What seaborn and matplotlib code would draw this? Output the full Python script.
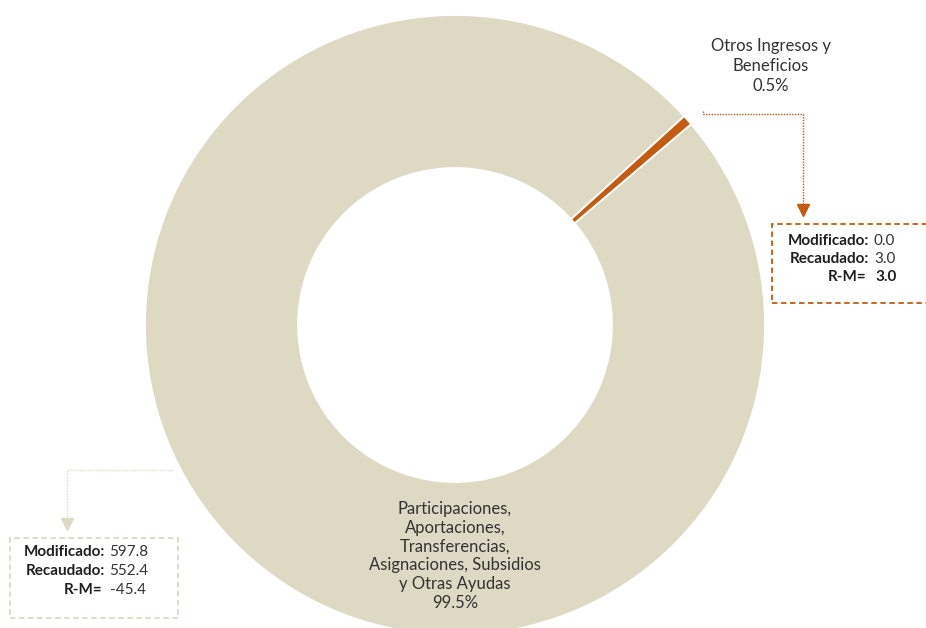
import numpy as np
import matplotlib
matplotlib.use("Agg")
import matplotlib.pyplot as plt
import seaborn as sns

# data
categorias = ["Participaciones,\nAportaciones,\nTransferencias,\nAsignaciones, Subsidios\ny Otras Ayudas",
              "Otros Ingresos y\nBeneficios"]
modificado = [597.8, 0.0]
recaudado = [552.4, 3.0]
colores = ["#DDD9C3", "#C55A11"]

sns.set_theme(style="white")
plt.rcParams['font.family'] = ['Lato', 'DejaVu Sans']

W, H = 926, 628
fig = plt.figure(figsize=(W / 100, H / 100), dpi=100)
ax = fig.add_axes([0, 0, 1, 1])

def Y(y):
    # image pixel row -> data y
    return H - y

total = sum(recaudado)
pct = [v / total * 100 for v in recaudado]
rm = [r - m for r, m in zip(recaudado, modificado)]

cx, cy, R = 455, Y(325), 310
ax.pie(recaudado, colors=colores, radius=R, center=(cx, cy),
       startangle=40.4, counterclock=False, explode=[0, 0.03],
       wedgeprops=dict(width=153, edgecolor="white", linewidth=1.3))

ax.set_xlim(0, W)
ax.set_ylim(0, H)
ax.set_aspect("equal")
ax.axis("off")

txt = "#333333"
dark = "#1F1F1F"

# labels with percentages
ax.text(455, Y(556), f"{categorias[0]}\n{pct[0]:.1f}%", ha="center", va="center",
        fontsize=12, color=txt, linespacing=1.22)
ax.text(771, Y(66), f"{categorias[1]}\n{pct[1]:.1f}%", ha="center", va="center",
        fontsize=12, color=txt, linespacing=1.3)

# connector for small slice
ax.plot([703, 703, 803, 803], [Y(111), Y(114), Y(114), Y(205)], color=colores[1],
        lw=1, ls=(0, (1, 1)))
ax.plot(803, Y(210), marker="v", color=colores[1], ms=8)
ax.add_patch(plt.Rectangle((772, Y(303)), 160, 79, fill=False, ec=colores[1],
                           lw=1.3, ls=(0, (3, 2))))

# connector for big slice
ax.plot([172, 67, 67], [Y(470), Y(470), Y(520)], color=colores[0], lw=1, ls=(0, (1, 1)))
ax.plot(67, Y(524), marker="v", color=colores[0], ms=8)
ax.add_patch(plt.Rectangle((10, Y(618)), 168, 80, fill=False, ec=colores[0],
                           lw=1.3, ls=(0, (3, 2))))

def caja(xl, xv, ys, i, bold_rm=False):
    fs = 11
    ax.text(xl, Y(ys[0]), "Modificado:", ha="right", va="center", fontsize=fs,
            fontweight="bold", color=dark)
    ax.text(xv, Y(ys[0]), f"{modificado[i]:.1f}", ha="left", va="center", fontsize=fs, color=txt)
    ax.text(xl, Y(ys[1]), "Recaudado:", ha="right", va="center", fontsize=fs,
            fontweight="bold", color=dark)
    ax.text(xv, Y(ys[1]), f"{recaudado[i]:.1f}", ha="left", va="center", fontsize=fs, color=txt)
    ax.text(xl - 3, Y(ys[2]), "R-M=", ha="right", va="center", fontsize=fs,
            fontweight="bold", color=dark)
    ax.text(xv + 1, Y(ys[2]), f"{rm[i]:.1f}", ha="left", va="center", fontsize=fs,
            color=dark if bold_rm else txt, fontweight="bold" if bold_rm else "normal")

caja(105, 109, [552, 571, 590], 0)
caja(869, 874, [241, 259, 277], 1, bold_rm=True)

fig.savefig("out.png", dpi=100)
